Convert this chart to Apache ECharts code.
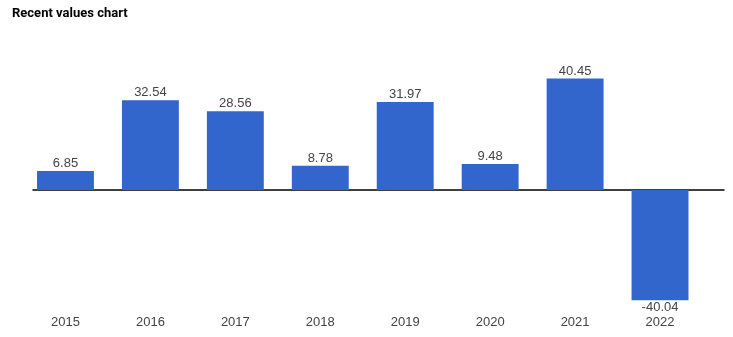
<!DOCTYPE html>
<html>
<head>
<meta charset="utf-8">
<script src="https://cdn.jsdelivr.net/npm/echarts@6/dist/echarts.min.js"></script>
<style>
html,body{margin:0;padding:0;background:#fff;}
#c{width:733px;height:337px;}
</style>
</head>
<body>
<div id="c"></div>
<script>
const categories = ['2015','2016','2017','2018','2019','2020','2021','2022'];
const values = [6.85, 32.54, 28.56, 8.78, 31.97, 9.48, 40.45, -40.04];
const titleText = 'Recent values chart';

const chart = echarts.init(document.getElementById('c'), null, {renderer:'canvas'});
const barData = values.map(v => ({
  value: v,
  label: { position: v < 0 ? 'bottom' : 'top' }
}));
chart.setOption({
  animation: false,
  title: {
    text: titleText,
    left: 7, top: 2,
    textStyle: { fontFamily: 'Roboto, Arial, sans-serif', fontSize: 13, fontWeight: 'bold', color: '#000' }
  },
  grid: [
    { left: 23, right: 30.5, top: 66, bottom: 23, containLabel: false },
    { left: 33, right: 9, top: 66, bottom: 23, containLabel: false }
  ],
  xAxis: [{
    type: 'category',
    gridIndex: 0,
    data: categories,
    axisLine: { show: false, onZero: false },
    axisTick: { show: false },
    axisLabel: { color: '#444', fontSize: 13, fontFamily: 'Arial, "Liberation Sans", sans-serif', margin: 2 }
  }, {
    type: 'value',
    gridIndex: 1,
    min: 0, max: 1,
    axisLine: { show: true, onZero: true, lineStyle: { color: '#000', width: 1.5 } },
    axisTick: { show: false },
    axisLabel: { show: false },
    splitLine: { show: false }
  }],
  yAxis: [{
    type: 'value',
    gridIndex: 0,
    min: -45, max: 45,
    show: false,
    splitLine: { show: false }
  }, {
    type: 'value',
    gridIndex: 1,
    min: -45, max: 45,
    axisLine: { show: false },
    axisTick: { show: false },
    axisLabel: { show: false },
    splitLine: { show: false }
  }],
  series: [{
    type: 'bar',
    xAxisIndex: 0,
    yAxisIndex: 0,
    data: barData,
    barCategoryGap: '33%',
    itemStyle: { color: '#3366CC' },
    z: 1,
    label: {
      show: true,
      distance: 1,
      color: '#444',
      fontSize: 13,
      fontFamily: 'Arial, "Liberation Sans", sans-serif',
      formatter: p => String(p.value)
    }
  }]
});
</script>
</body>
</html>
